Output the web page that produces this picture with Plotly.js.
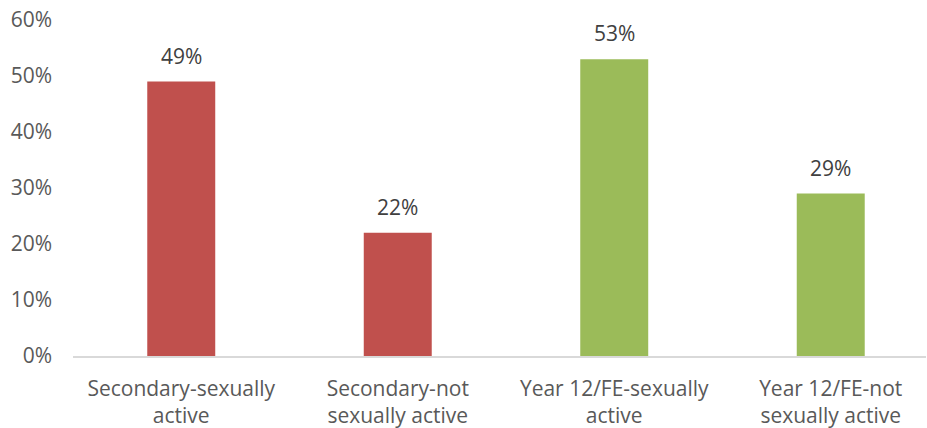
<!DOCTYPE html>
<html><head><meta charset="utf-8">
<script src="https://cdn.plot.ly/plotly-3.0.1.min.js"></script>
<style>html,body{margin:0;padding:0;overflow:hidden;background:#fff}</style>
</head><body><div id="chart" style="width:927px;height:428px"></div>
<script>
const categories = ["Secondary-sexually<br>active", "Secondary-not<br>sexually active", "Year 12/FE-sexually<br>active", "Year 12/FE-not<br>sexually active"];
const values = [0.49, 0.22, 0.53, 0.29];
const valueLabels = ["49%", "22%", "53%", "29%"];
const barColors = ["#C0504D", "#C0504D", "#9BBB59", "#9BBB59"];
const yTicks = [0, 0.1, 0.2, 0.3, 0.4, 0.5, 0.6];

const font = "Open Sans, sans-serif";
const trace = {
  type: "bar", x: categories, y: values,
  marker: {color: barColors}, hoverinfo: "none"
};
const annotations = categories.map((c, i) => ({
  x: c, y: values[i], text: valueLabels[i], showarrow: false,
  yanchor: "bottom", yshift: 10, font: {family: font, size: 21, color: "#404040"}
}));
Plotly.newPlot("chart", [trace], {
  width: 927, height: 428,
  margin: {l: 73, r: 1, t: 19.5, b: 72},
  paper_bgcolor: "#fff", plot_bgcolor: "#fff",
  bargap: 0.686,
  showlegend: false,
  xaxis: {range: [-0.5, 3.44], showline: true, linecolor: "#D9D9D9", linewidth: 1.5,
    tickfont: {family: font, size: 21, color: "#595959"}, ticks: "", ticklabelstandoff: 13, fixedrange: true},
  yaxis: {range: [0, 0.6], tickvals: yTicks, tickformat: ".0%", showgrid: false, zeroline: false,
    showline: false, ticks: "", ticklabelstandoff: 20,
    tickfont: {family: font, size: 21, color: "#595959"}},
  annotations: annotations
}, {staticPlot: true});
</script></body></html>
